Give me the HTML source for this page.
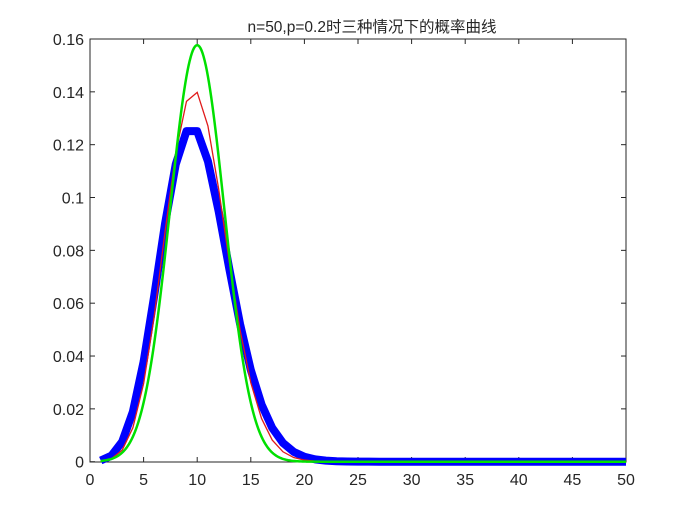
<!DOCTYPE html>
<html><head><meta charset="utf-8"><style>
body{margin:0;background:#fff;}
svg text{font-family:"Liberation Sans","Noto Sans CJK SC",sans-serif;fill:#262626;}
</style></head><body>
<svg id="s" width="692" height="519" viewBox="0 0 692 519" xmlns="http://www.w3.org/2000/svg">
<rect x="0" y="0" width="692" height="519" fill="#fff"/>
<rect x="90" y="39" width="536" height="423" fill="#fff" stroke="#262626" stroke-width="1"/>
<g id="ticks" stroke="#262626" stroke-width="1"></g>
<g id="lab" font-size="16"></g>
<text x="372" y="32" font-size="15.5" text-anchor="middle">n=50,p=0.2时三种情况下的概率曲线</text>
<path id="blue" fill="none" stroke="#0000ff" stroke-width="8" stroke-linejoin="round"/>
<path id="red" fill="none" stroke="#e01a1a" stroke-width="1.3"/>
<path id="green" fill="none" stroke="#00e000" stroke-width="2.5"/>
</svg>
<script>
var X=function(v){return 90+v*10.72;},Y=function(v){return 461.7-v/0.16*422.7;};
var t='',l='';
for(var i=0;i<=50;i+=5){var x=X(i);t+='<line x1="'+x+'" y1="462" x2="'+x+'" y2="457"/><line x1="'+x+'" y1="39" x2="'+x+'" y2="44"/>';l+='<text x="'+x+'" y="485" text-anchor="middle">'+i+'</text>';}
var ys=['0','0.02','0.04','0.06','0.08','0.1','0.12','0.14','0.16'];
for(var j=0;j<ys.length;j++){var y=Y(j*0.02);t+='<line x1="90" y1="'+y+'" x2="95" y2="'+y+'"/><line x1="626" y1="'+y+'" x2="621" y2="'+y+'"/>';l+='<text x="84" y="'+(y+6)+'" text-anchor="end">'+ys[j]+'</text>';}
document.getElementById('ticks').innerHTML=t;document.getElementById('lab').innerHTML=l;
function lf(n){var s=0;for(var k=2;k<=n;k++)s+=Math.log(k);return s;}
var r='',b='',g='';
for(var k=1;k<=50;k++){
var pb=Math.exp(lf(50)-lf(k)-lf(50-k)+k*Math.log(0.2)+(50-k)*Math.log(0.8));
var pp=Math.exp(-10+k*Math.log(10)-lf(k));
r+=(k==1?'M':'L')+X(k).toFixed(2)+' '+Y(pb).toFixed(2);
b+=(k==1?'M':'L')+X(k).toFixed(2)+' '+Y(pp).toFixed(2);}
var sg=2.53;
for(var x=1;x<=50.001;x+=0.1){var p=Math.exp(-(x-10)*(x-10)/(2*sg*sg))/(Math.sqrt(2*Math.PI)*sg);g+=(x==1?'M':'L')+X(x).toFixed(2)+' '+Y(p).toFixed(2);}
document.getElementById('red').setAttribute('d',r);
document.getElementById('blue').setAttribute('d',b);
document.getElementById('green').setAttribute('d',g);
</script>
</body></html>
